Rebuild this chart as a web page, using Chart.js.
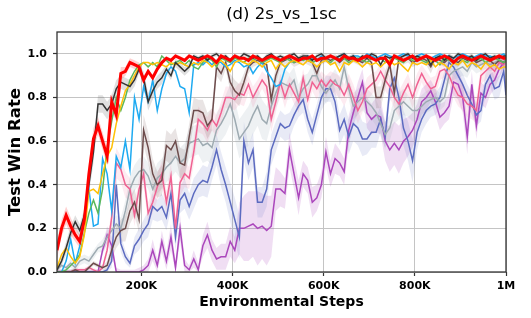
<!DOCTYPE html>
<html>
<head>
<meta charset="utf-8">
<script src="https://cdn.jsdelivr.net/npm/chart.js@4/dist/chart.umd.min.js"></script>
<style>
  body { margin: 0; background: #fff; }
  canvas { display: block; }
</style>
</head>
<body>
<canvas id="myChart" width="531" height="318"></canvas>
<script>
// environment steps (in K)
const steps = [
  15, 25, 35, 45, 55, 65, 75, 85, 95, 105,
  115, 125, 135, 145, 155, 165, 175, 185, 195, 205,
  215, 225, 235, 245, 255, 265, 275, 285, 295, 305,
  315, 325, 335, 345, 355, 365, 375, 385, 395, 405,
  415, 425, 435, 445, 455, 465, 475, 485, 495, 505,
  515, 525, 535, 545, 555, 565, 575, 585, 595, 605,
  615, 625, 635, 645, 655, 665, 675, 685, 695, 705,
  715, 725, 735, 745, 755, 765, 775, 785, 795, 805,
  815, 825, 835, 845, 855, 865, 875, 885, 895, 905,
  915, 925, 935, 945, 955, 965, 975, 985, 995, 1000
];

const xTickValues = [200, 400, 600, 800, 1000];
const xTickLabels = ["200K", "400K", "600K", "800K", "1M"];
const yTickValues = [0, 0.2, 0.4, 0.6, 0.8, 1.0];

const redRate = [
  0.10, 0.20, 0.26, 0.21, 0.17, 0.14, 0.24, 0.45, 0.61, 0.67,
  0.60, 0.53, 0.78, 0.72, 0.91, 0.92, 0.96, 0.95, 0.94, 0.88,
  0.92, 0.89, 0.93, 0.96, 0.98, 0.97, 0.99, 0.98, 0.97, 0.99,
  0.98, 0.97, 0.98, 0.99, 0.98, 0.96, 0.99, 0.98, 0.97, 0.99,
  0.98, 0.98, 0.97, 0.99, 0.98, 0.97, 0.98, 0.99, 0.98, 0.97,
  0.98, 0.99, 0.98, 0.97, 0.98, 0.98, 0.99, 0.97, 0.98, 0.98,
  0.99, 0.98, 0.97, 0.99, 0.98, 0.98, 0.97, 0.98, 0.99, 0.98,
  0.97, 0.98, 0.98, 0.95, 0.99, 0.98, 0.97, 0.98, 0.99, 0.97,
  0.98, 0.99, 0.98, 0.97, 0.98, 0.99, 0.98, 0.96, 0.98, 0.99,
  0.98, 0.97, 0.98, 0.99, 0.98, 0.97, 0.98, 0.99, 0.98, 0.98
];
const redStd = [
  0.04, 0.04, 0.04, 0.04, 0.03, 0.03, 0.04, 0.05, 0.05, 0.04,
  0.04, 0.04, 0.04, 0.03, 0.03, 0.02, 0.02, 0.02, 0.02, 0.02,
  0.01, 0.01, 0.01, 0.01, 0.01, 0.01, 0.01, 0.01, 0.01, 0.01,
  0.01, 0.01, 0.01, 0.01, 0.01, 0.01, 0.01, 0.01, 0.01, 0.01,
  0.01, 0.01, 0.01, 0.01, 0.01, 0.01, 0.01, 0.01, 0.01, 0.01,
  0.01, 0.01, 0.01, 0.01, 0.01, 0.01, 0.01, 0.01, 0.01, 0.01,
  0.01, 0.01, 0.01, 0.01, 0.01, 0.01, 0.01, 0.01, 0.01, 0.01,
  0.01, 0.01, 0.01, 0.01, 0.01, 0.01, 0.01, 0.01, 0.01, 0.01,
  0.01, 0.01, 0.01, 0.01, 0.01, 0.01, 0.01, 0.01, 0.01, 0.01,
  0.01, 0.01, 0.01, 0.01, 0.01, 0.01, 0.01, 0.01, 0.01, 0.01
];

const blackRate = [
  0.01, 0.05, 0.11, 0.18, 0.23, 0.19, 0.26, 0.40, 0.55, 0.77,
  0.77, 0.74, 0.77, 0.84, 0.87, 0.86, 0.85, 0.88, 0.93, 0.89,
  0.78, 0.83, 0.87, 0.89, 0.93, 0.90, 0.96, 0.94, 0.92, 0.94,
  0.99, 0.98, 0.99, 0.97, 0.99, 1.00, 0.98, 0.99, 0.97, 0.99,
  0.98, 1.00, 0.99, 0.98, 0.99, 0.97, 0.99, 1.00, 0.98, 0.99,
  0.98, 0.99, 1.00, 0.98, 0.99, 0.99, 0.97, 0.99, 1.00, 0.98,
  0.99, 0.98, 0.99, 1.00, 0.98, 0.99, 0.97, 0.99, 0.98, 1.00,
  0.99, 0.95, 0.99, 0.98, 0.99, 0.98, 0.99, 1.00, 0.98, 0.99,
  0.98, 0.99, 0.95, 0.98, 0.99, 0.97, 0.99, 0.98, 1.00, 0.99,
  0.98, 0.99, 0.97, 0.99, 1.00, 0.98, 0.99, 0.98, 0.99, 0.99
];
const blackStd = [
  0.01, 0.02, 0.03, 0.03, 0.03, 0.03, 0.03, 0.04, 0.05, 0.04,
  0.04, 0.04, 0.04, 0.04, 0.03, 0.03, 0.03, 0.03, 0.02, 0.03,
  0.04, 0.04, 0.03, 0.03, 0.02, 0.02, 0.02, 0.02, 0.02, 0.02,
  0.01, 0.01, 0.01, 0.01, 0.01, 0.01, 0.01, 0.01, 0.01, 0.01,
  0.01, 0.01, 0.01, 0.01, 0.01, 0.01, 0.01, 0.01, 0.01, 0.01,
  0.01, 0.01, 0.01, 0.01, 0.01, 0.01, 0.01, 0.01, 0.01, 0.01,
  0.01, 0.01, 0.01, 0.01, 0.01, 0.01, 0.01, 0.01, 0.01, 0.01,
  0.01, 0.01, 0.01, 0.01, 0.01, 0.01, 0.01, 0.01, 0.01, 0.01,
  0.01, 0.01, 0.01, 0.01, 0.01, 0.01, 0.01, 0.01, 0.01, 0.01,
  0.01, 0.01, 0.01, 0.01, 0.01, 0.01, 0.01, 0.01, 0.01, 0.01
];

const yellowRate = [
  0.02, 0.08, 0.11, 0.07, 0.04, 0.07, 0.17, 0.37, 0.38, 0.36,
  0.45, 0.53, 0.57, 0.68, 0.76, 0.83, 0.86, 0.90, 0.94, 0.96,
  0.96, 0.95, 0.96, 0.95, 0.94, 0.96, 0.95, 0.96, 0.95, 0.94,
  0.96, 0.95, 0.97, 0.96, 0.94, 0.96, 0.97, 0.95, 0.92, 0.96,
  0.97, 0.96, 0.95, 0.97, 0.96, 0.94, 0.96, 0.97, 0.93, 0.96,
  0.94, 0.96, 0.97, 0.96, 0.95, 0.97, 0.96, 0.94, 0.96, 0.97,
  0.95, 0.96, 0.92, 0.96, 0.95, 0.97, 0.96, 0.94, 0.96, 0.95,
  0.96, 0.94, 0.96, 0.97, 0.95, 0.96, 0.94, 0.92, 0.96, 0.95,
  0.96, 0.95, 0.97, 0.94, 0.96, 0.95, 0.93, 0.96, 0.95, 0.97,
  0.94, 0.96, 0.95, 0.93, 0.96, 0.94, 0.95, 0.93, 0.94, 0.94
];

const greenRate = [
  0.00, 0.00, 0.01, 0.03, 0.05, 0.08, 0.18, 0.27, 0.33, 0.27,
  0.38, 0.57, 0.69, 0.80, 0.74, 0.80, 0.88, 0.92, 0.95, 0.96,
  0.94, 0.96, 0.94, 0.99, 0.97, 0.95, 0.96, 0.97, 0.95, 0.97,
  0.94, 0.93, 0.96, 0.98, 0.97, 0.94, 0.98, 0.97, 0.96, 0.98,
  0.97, 0.96, 0.98, 0.97, 0.98, 0.96, 0.97, 0.98, 0.97, 0.96,
  0.98, 0.97, 0.96, 0.98, 0.97, 0.98, 0.96, 0.97, 0.98, 0.97,
  0.96, 0.98, 0.97, 0.98, 0.96, 0.97, 0.98, 0.97, 0.96, 0.98,
  0.97, 0.98, 0.96, 0.97, 0.98, 0.97, 0.96, 0.98, 0.97, 0.98,
  0.97, 0.96, 0.98, 0.97, 0.95, 0.98, 0.97, 0.96, 0.98, 0.97,
  0.96, 0.98, 0.97, 0.98, 0.96, 0.97, 0.98, 0.97, 0.96, 0.97
];

const skyRate = [
  0.00, 0.00, 0.05, 0.15, 0.04, 0.12, 0.24, 0.38, 0.21, 0.22,
  0.52, 0.45, 0.28, 0.53, 0.48, 0.60, 0.47, 0.80, 0.70, 0.85,
  0.78, 0.88, 0.74, 0.84, 0.91, 0.94, 0.92, 0.85, 0.84, 0.73,
  0.95, 0.96, 0.95, 0.97, 0.95, 0.97, 0.96, 0.94, 0.95, 0.97,
  0.96, 0.94, 0.95, 0.91, 0.94, 0.96, 0.92, 0.89, 0.85, 0.86,
  0.93, 0.96, 0.97, 0.98, 0.97, 0.99, 0.98, 0.97, 0.99, 0.98,
  0.99, 0.98, 0.99, 1.00, 0.98, 0.99, 0.99, 0.98, 1.00, 0.99,
  0.98, 0.99, 1.00, 0.99, 0.98, 0.99, 1.00, 0.99, 0.98, 0.99,
  1.00, 0.99, 0.98, 0.99, 1.00, 0.99, 0.99, 0.98, 0.99, 1.00,
  0.99, 0.98, 0.99, 1.00, 0.99, 0.99, 0.98, 0.99, 1.00, 0.99
];

const brownRate = [
  0.00, 0.00, 0.00, 0.00, 0.01, 0.00, 0.00, 0.02, 0.04, 0.03,
  0.02, 0.03, 0.10, 0.16, 0.19, 0.20, 0.28, 0.32, 0.24, 0.65,
  0.57, 0.45, 0.40, 0.42, 0.58, 0.56, 0.60, 0.50, 0.49, 0.62,
  0.74, 0.74, 0.73, 0.67, 0.70, 0.94, 0.91, 0.96, 0.87, 0.83,
  0.81, 0.87, 0.94, 0.96, 0.97, 0.96, 0.95, 0.79, 0.90, 0.96,
  0.97, 0.98, 0.96, 0.97, 0.98, 0.97, 0.96, 0.91, 0.97, 0.98,
  0.97, 0.98, 0.96, 0.98, 0.97, 0.98, 0.97, 0.96, 0.98, 0.96,
  0.80, 0.80, 0.88, 0.95, 0.82, 0.98, 0.97, 0.98, 0.96, 0.97,
  0.98, 0.97, 0.94, 0.98, 0.97, 0.96, 0.98, 0.97, 0.96, 0.98,
  0.97, 0.98, 0.96, 0.97, 0.98, 0.97, 0.95, 0.97, 0.96, 0.97
];
const brownStd = [
  0.01, 0.01, 0.01, 0.01, 0.01, 0.01, 0.01, 0.01, 0.01, 0.01,
  0.01, 0.02, 0.04, 0.05, 0.05, 0.06, 0.06, 0.06, 0.06, 0.07,
  0.07, 0.07, 0.06, 0.07, 0.07, 0.07, 0.06, 0.07, 0.07, 0.06,
  0.06, 0.05, 0.06, 0.06, 0.05, 0.04, 0.04, 0.03, 0.04, 0.05,
  0.05, 0.04, 0.03, 0.02, 0.02, 0.02, 0.02, 0.05, 0.04, 0.02,
  0.02, 0.02, 0.02, 0.02, 0.02, 0.02, 0.02, 0.04, 0.02, 0.02,
  0.02, 0.02, 0.02, 0.02, 0.02, 0.02, 0.02, 0.02, 0.02, 0.03,
  0.05, 0.05, 0.04, 0.03, 0.05, 0.02, 0.02, 0.02, 0.02, 0.02,
  0.02, 0.02, 0.03, 0.02, 0.02, 0.02, 0.02, 0.02, 0.02, 0.02,
  0.02, 0.02, 0.02, 0.02, 0.02, 0.02, 0.03, 0.02, 0.02, 0.02
];

const pinkRate = [
  0.00, 0.00, 0.00, 0.00, 0.01, 0.01, 0.01, 0.02, 0.01, 0.00,
  0.02, 0.10, 0.25, 0.50, 0.47, 0.40, 0.38, 0.26, 0.38, 0.45,
  0.27, 0.32, 0.39, 0.45, 0.32, 0.44, 0.20, 0.41, 0.45, 0.43,
  0.55, 0.70, 0.68, 0.65, 0.70, 0.67, 0.73, 0.80, 0.80, 0.79,
  0.82, 0.81, 0.86, 0.80, 0.84, 0.88, 0.85, 0.70, 0.78, 0.87,
  0.80, 0.86, 0.82, 0.78, 0.89, 0.79, 0.87, 0.84, 0.88, 0.85,
  0.88, 0.86, 0.85, 0.81, 0.86, 0.80, 0.74, 0.78, 0.84, 0.86,
  0.88, 0.92, 0.88, 0.85, 0.80, 0.77, 0.82, 0.86, 0.80, 0.86,
  0.91, 0.87, 0.84, 0.85, 0.92, 0.93, 0.90, 0.85, 0.81, 0.80,
  0.77, 0.76, 0.74, 0.90, 0.92, 0.94, 0.92, 0.96, 0.95, 0.97
];
const pinkStd = [
  0.01, 0.01, 0.01, 0.01, 0.01, 0.01, 0.01, 0.01, 0.01, 0.01,
  0.01, 0.03, 0.05, 0.07, 0.06, 0.06, 0.05, 0.05, 0.05, 0.06,
  0.05, 0.05, 0.06, 0.06, 0.05, 0.06, 0.05, 0.06, 0.06, 0.05,
  0.06, 0.06, 0.05, 0.06, 0.05, 0.05, 0.05, 0.05, 0.05, 0.05,
  0.05, 0.05, 0.04, 0.05, 0.04, 0.04, 0.05, 0.06, 0.05, 0.04,
  0.05, 0.04, 0.05, 0.05, 0.04, 0.05, 0.04, 0.05, 0.04, 0.05,
  0.04, 0.05, 0.05, 0.05, 0.05, 0.06, 0.06, 0.05, 0.05, 0.05,
  0.04, 0.04, 0.05, 0.05, 0.05, 0.06, 0.05, 0.05, 0.05, 0.05,
  0.04, 0.05, 0.05, 0.05, 0.04, 0.04, 0.04, 0.05, 0.05, 0.06,
  0.06, 0.06, 0.06, 0.04, 0.04, 0.03, 0.04, 0.03, 0.03, 0.03
];

const grayRate = [
  0.01, 0.03, 0.02, 0.04, 0.02, 0.05, 0.06, 0.05, 0.08, 0.11,
  0.12, 0.16, 0.19, 0.22, 0.20, 0.28, 0.38, 0.43, 0.46, 0.47,
  0.44, 0.38, 0.43, 0.45, 0.48, 0.50, 0.53, 0.50, 0.52, 0.59,
  0.60, 0.61, 0.58, 0.59, 0.57, 0.65, 0.68, 0.72, 0.77, 0.70,
  0.61, 0.64, 0.67, 0.72, 0.76, 0.70, 0.68, 0.76, 0.82, 0.87,
  0.86, 0.85, 0.88, 0.80, 0.84, 0.86, 0.90, 0.90, 0.85, 0.82,
  0.85, 0.88, 0.84, 0.94, 0.84, 0.76, 0.78, 0.80, 0.78, 0.76,
  0.73, 0.68, 0.63, 0.66, 0.74, 0.76, 0.78, 0.76, 0.74, 0.74,
  0.76, 0.78, 0.79, 0.80, 0.78, 0.80, 0.90, 0.92, 0.93, 0.94,
  0.92, 0.96, 0.94, 0.95, 0.96, 0.95, 0.96, 0.97, 0.96, 0.96
];
const grayStd = [
  0.01, 0.01, 0.01, 0.02, 0.02, 0.02, 0.02, 0.02, 0.02, 0.02,
  0.03, 0.03, 0.04, 0.04, 0.05, 0.05, 0.06, 0.06, 0.06, 0.06,
  0.06, 0.06, 0.07, 0.07, 0.07, 0.07, 0.07, 0.07, 0.07, 0.07,
  0.07, 0.07, 0.08, 0.08, 0.08, 0.08, 0.08, 0.09, 0.09, 0.09,
  0.09, 0.09, 0.09, 0.09, 0.09, 0.09, 0.08, 0.08, 0.07, 0.07,
  0.07, 0.06, 0.06, 0.06, 0.06, 0.05, 0.05, 0.05, 0.05, 0.05,
  0.05, 0.05, 0.05, 0.05, 0.05, 0.06, 0.06, 0.06, 0.06, 0.06,
  0.06, 0.06, 0.06, 0.06, 0.06, 0.06, 0.06, 0.05, 0.05, 0.05,
  0.05, 0.05, 0.05, 0.04, 0.04, 0.04, 0.04, 0.04, 0.04, 0.04,
  0.03, 0.03, 0.03, 0.03, 0.03, 0.03, 0.03, 0.03, 0.03, 0.03
];

const indigoRate = [
  0.00, 0.00, 0.00, 0.00, 0.00, 0.00, 0.00, 0.00, 0.00, 0.00,
  0.00, 0.01, 0.05, 0.40, 0.13, 0.07, 0.04, 0.12, 0.15, 0.19,
  0.22, 0.30, 0.28, 0.30, 0.25, 0.36, 0.16, 0.33, 0.36, 0.30,
  0.36, 0.40, 0.42, 0.41, 0.48, 0.56, 0.47, 0.40, 0.32, 0.24,
  0.16, 0.60, 0.50, 0.56, 0.32, 0.32, 0.38, 0.56, 0.62, 0.68,
  0.66, 0.67, 0.72, 0.76, 0.79, 0.70, 0.64, 0.72, 0.80, 0.84,
  0.84, 0.78, 0.65, 0.70, 0.62, 0.68, 0.66, 0.61, 0.61, 0.64,
  0.64, 0.70, 0.62, 0.84, 0.89, 0.80, 0.66, 0.60, 0.51, 0.64,
  0.70, 0.74, 0.76, 0.77, 0.80, 0.88, 0.96, 0.94, 0.90, 0.86,
  0.81, 0.77, 0.72, 0.74, 0.86, 0.90, 0.84, 0.85, 0.92, 0.81
];
const indigoStd = [
  0.01, 0.01, 0.01, 0.01, 0.01, 0.01, 0.01, 0.01, 0.01, 0.01,
  0.01, 0.01, 0.03, 0.05, 0.04, 0.03, 0.02, 0.04, 0.05, 0.05,
  0.06, 0.06, 0.05, 0.06, 0.06, 0.07, 0.06, 0.06, 0.07, 0.06,
  0.07, 0.06, 0.07, 0.07, 0.06, 0.07, 0.08, 0.08, 0.09, 0.10,
  0.10, 0.09, 0.08, 0.08, 0.07, 0.07, 0.08, 0.07, 0.07, 0.06,
  0.06, 0.06, 0.05, 0.05, 0.06, 0.06, 0.06, 0.05, 0.06, 0.06,
  0.06, 0.06, 0.07, 0.07, 0.08, 0.08, 0.08, 0.08, 0.07, 0.07,
  0.07, 0.06, 0.06, 0.06, 0.06, 0.07, 0.08, 0.09, 0.10, 0.08,
  0.06, 0.06, 0.05, 0.05, 0.05, 0.04, 0.04, 0.04, 0.04, 0.05,
  0.05, 0.05, 0.05, 0.05, 0.05, 0.05, 0.05, 0.05, 0.04, 0.05
];

const purpleRate = [
  0.00, 0.00, 0.00, 0.00, 0.00, 0.00, 0.00, 0.00, 0.00, 0.00,
  0.10, 0.17, 0.12, 0.00, 0.00, 0.00, 0.00, 0.00, 0.00, 0.01,
  0.03, 0.10, 0.03, 0.14, 0.05, 0.16, 0.02, 0.20, 0.03, 0.01,
  0.06, 0.01, 0.12, 0.17, 0.10, 0.06, 0.07, 0.07, 0.14, 0.10,
  0.20, 0.20, 0.21, 0.22, 0.20, 0.21, 0.19, 0.21, 0.38, 0.38,
  0.36, 0.56, 0.45, 0.34, 0.45, 0.42, 0.32, 0.34, 0.40, 0.55,
  0.45, 0.52, 0.50, 0.46, 0.65, 0.73, 0.80, 0.87, 0.73, 0.70,
  0.72, 0.71, 0.60, 0.56, 0.59, 0.56, 0.60, 0.62, 0.65, 0.70,
  0.78, 0.80, 0.83, 0.78, 0.71, 0.73, 0.76, 0.87, 0.86, 0.80,
  0.62, 0.86, 0.67, 0.82, 0.80, 0.86, 0.88, 0.93, 0.96, 0.97
];
const purpleStd = [
  0.01, 0.01, 0.01, 0.01, 0.01, 0.01, 0.01, 0.01, 0.01, 0.01,
  0.02, 0.04, 0.04, 0.02, 0.01, 0.01, 0.01, 0.01, 0.02, 0.02,
  0.03, 0.05, 0.03, 0.05, 0.04, 0.06, 0.03, 0.06, 0.03, 0.02,
  0.04, 0.03, 0.05, 0.06, 0.05, 0.05, 0.06, 0.06, 0.07, 0.06,
  0.12, 0.15, 0.16, 0.15, 0.17, 0.15, 0.16, 0.14, 0.10, 0.08,
  0.07, 0.08, 0.07, 0.08, 0.06, 0.06, 0.07, 0.06, 0.06, 0.07,
  0.06, 0.07, 0.06, 0.06, 0.07, 0.06, 0.07, 0.06, 0.07, 0.07,
  0.08, 0.08, 0.09, 0.10, 0.10, 0.11, 0.10, 0.09, 0.08, 0.07,
  0.06, 0.06, 0.05, 0.06, 0.06, 0.05, 0.06, 0.06, 0.07, 0.07,
  0.08, 0.06, 0.06, 0.05, 0.05, 0.05, 0.04, 0.04, 0.03, 0.03
];

// drawing order: first one ends up on top
const series = [
  { name: "red", color: "#ff0000", band: "rgba(255,0,0,0.18)", width: 3, values: redRate, std: redStd },
  { name: "black", color: "#333333", band: "rgba(60,60,60,0.16)", width: 1.5, values: blackRate, std: blackStd },
  { name: "yellow", color: "#ffc107", width: 1.5, values: yellowRate },
  { name: "green", color: "#5cb85c", width: 1.5, values: greenRate },
  { name: "sky", color: "#1eaaf1", width: 1.5, values: skyRate },
  { name: "brown", color: "#6d4c4c", band: "rgba(109,76,76,0.15)", width: 1.5, values: brownRate, std: brownStd },
  { name: "pink", color: "#f06292", band: "rgba(240,98,146,0.13)", width: 1.5, values: pinkRate, std: pinkStd },
  { name: "gray", color: "#9eabb2", band: "rgba(144,164,174,0.15)", width: 1.5, values: grayRate, std: grayStd },
  { name: "indigo", color: "#5c6bc0", band: "rgba(92,107,192,0.14)", width: 1.5, values: indigoRate, std: indigoStd },
  { name: "purple", color: "#ab47bc", band: "rgba(171,71,188,0.18)", width: 1.5, values: purpleRate, std: purpleStd }
];

const toPoints = (vals) => vals.map((v, i) => ({ x: steps[i], y: v }));

const datasets = [];
series.forEach((s, k) => {
  datasets.push({
    label: s.name,
    data: toPoints(s.values),
    borderColor: s.color,
    borderWidth: s.width,
    pointRadius: 0,
    tension: 0,
    fill: false,
    order: k
  });
});
series.forEach((s) => {
  if (!s.std) return;
  const upper = s.values.map((v, i) => v + s.std[i]);
  const lower = s.values.map((v, i) => Math.max(0, v - s.std[i]));
  datasets.push({
    label: s.name + " hi",
    data: toPoints(upper),
    borderWidth: 0,
    pointRadius: 0,
    backgroundColor: s.band,
    fill: "+1",
    order: 50
  });
  datasets.push({
    label: s.name + " lo",
    data: toPoints(lower),
    borderWidth: 0,
    pointRadius: 0,
    fill: false,
    order: 50
  });
});

const frame = {
  id: "frame",
  afterDatasetsDraw(chart) {
    const { ctx, chartArea: a } = chart;
    ctx.save();
    ctx.strokeStyle = "#333";
    ctx.lineWidth = 1.3;
    ctx.strokeRect(a.left, a.top, a.right - a.left, a.bottom - a.top);
    ctx.restore();
  }
};

Chart.defaults.font.family = "'DejaVu Sans', sans-serif";
Chart.defaults.color = "#000";

const tickFont = { family: "'DejaVu Sans'", size: 11, weight: "bold" };

const ctx = document.getElementById("myChart").getContext("2d");
const myChart = new Chart(ctx, {
  type: "line",
  data: { datasets: datasets },
  options: {
    responsive: false,
    animation: false,
    devicePixelRatio: 1,
    layout: { padding: { top: 0, right: 25, left: 0, bottom: 0 } },
    plugins: {
      legend: { display: false },
      tooltip: { enabled: false },
      title: {
        display: true,
        text: "(d) 2s_vs_1sc",
        fullSize: false,
        color: "#000",
        font: { family: "'DejaVu Sans'", size: 16.5, weight: "normal" },
        padding: { top: 5, bottom: 7.2 }
      }
    },
    scales: {
      x: {
        type: "linear",
        min: 15,
        max: 1000,
        afterBuildTicks: (s) => { s.ticks = xTickValues.map((v) => ({ value: v })); },
        afterFit: (s) => { s.height = 46; },
        ticks: {
          autoSkip: false,
          maxRotation: 0,
          padding: 4,
          font: tickFont,
          color: "#000",
          callback: (v, i) => xTickLabels[i]
        },
        grid: { color: "#c4c4c4", lineWidth: 1, tickColor: "#333", tickLength: 4, tickWidth: 1.2 },
        border: { display: false },
        title: {
          display: true,
          text: "Environmental Steps",
          color: "#000",
          font: { family: "'DejaVu Sans'", size: 14, weight: "bold" },
          padding: { top: 0, bottom: 7.6 }
        }
      },
      y: {
        min: 0,
        max: 1.1,
        afterBuildTicks: (s) => { s.ticks = yTickValues.map((v) => ({ value: v })); },
        afterFit: (s) => { s.width = 57; },
        ticks: {
          padding: 6,
          font: tickFont,
          color: "#000",
          callback: (v) => v.toFixed(1)
        },
        grid: { color: "#c4c4c4", lineWidth: 1, tickColor: "#333", tickLength: 4, tickWidth: 1.2 },
        border: { display: false },
        title: {
          display: true,
          text: "Test Win Rate",
          color: "#000",
          font: { family: "'DejaVu Sans'", size: 16.5, weight: "bold" },
          padding: { top: 6, bottom: 0 }
        }
      }
    }
  },
  plugins: [frame]
});
</script>
</body>
</html>
